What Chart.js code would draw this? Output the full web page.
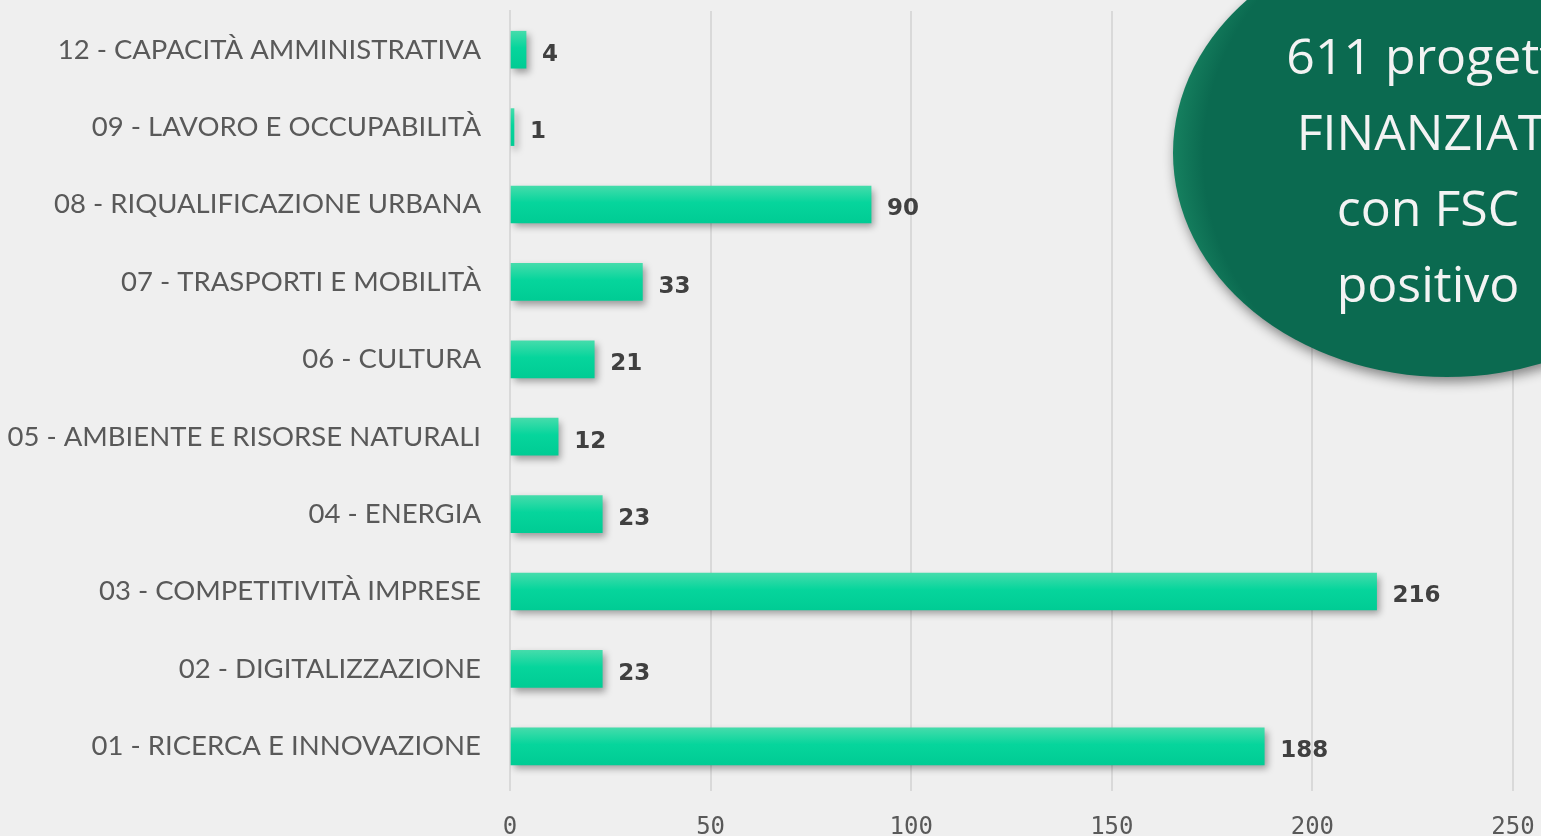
<!DOCTYPE html>
<html>
<head>
<meta charset="utf-8">
<script src="https://cdn.jsdelivr.net/npm/chart.js@4.4.1/dist/chart.umd.min.js"></script>
<style>
html,body{margin:0;padding:0;background:#efefef;}
#wrap{position:relative;width:1541px;height:836px;}
</style>
</head>
<body>
<div id="wrap"><canvas id="c" width="1541" height="836"></canvas></div>
<script>
const categories = [
  "12 - CAPACITÀ AMMINISTRATIVA",
  "09 - LAVORO E OCCUPABILITÀ",
  "08 - RIQUALIFICAZIONE URBANA",
  "07 - TRASPORTI E MOBILITÀ",
  "06 - CULTURA",
  "05 - AMBIENTE E RISORSE NATURALI",
  "04 - ENERGIA",
  "03 - COMPETITIVITÀ IMPRESE",
  "02 - DIGITALIZZAZIONE",
  "01 - RICERCA E INNOVAZIONE"
];
const projects = [4, 1, 90, 33, 21, 12, 23, 216, 23, 188];
const xTicks = [0, 50, 100, 150, 200, 250];
const calloutLines = ["611 progetti", "FINANZIATI", "con FSC", "positivo"];

const BAR_T = 37;

const barShadow = {
  id: 'barShadow',
  beforeDatasetDraw(chart) {
    const ctx = chart.ctx;
    ctx.save();
    ctx.shadowColor = 'rgba(0,0,0,0.35)';
    ctx.shadowBlur = 7;
    ctx.shadowOffsetX = 3;
    ctx.shadowOffsetY = 4;
  },
  afterDatasetDraw(chart) {
    chart.ctx.restore();
  }
};

const valueLabels = {
  id: 'valueLabels',
  afterDatasetsDraw(chart) {
    const ctx = chart.ctx;
    const meta = chart.getDatasetMeta(0);
    ctx.save();
    ctx.font = 'bold 23px "DejaVu Sans"';
    ctx.fillStyle = '#404040';
    ctx.textAlign = 'left';
    ctx.textBaseline = 'middle';
    meta.data.forEach((bar, i) => {
      ctx.fillText(String(projects[i]), bar.x + 16, bar.y + 5);
    });
    ctx.restore();
  }
};

const callout = {
  id: 'callout',
  afterDraw(chart) {
    const ctx = chart.ctx;
    const cx = 1447, cy = 153, rx = 274, ry = 224;
    ctx.save();
    ctx.shadowColor = 'rgba(0,0,0,0.45)';
    ctx.shadowBlur = 12;
    ctx.shadowOffsetX = 2;
    ctx.shadowOffsetY = 5;
    const g = ctx.createRadialGradient(cx + 30, cy + 20, 50, cx, cy, rx);
    g.addColorStop(0, '#0b6a50');
    g.addColorStop(0.88, '#0b6a50');
    g.addColorStop(1, '#16805f');
    ctx.fillStyle = g;
    ctx.beginPath();
    ctx.ellipse(cx, cy, rx, ry, 0, 0, Math.PI * 2);
    ctx.fill();
    ctx.restore();
    ctx.save();
    ctx.fillStyle = '#f3f3f3';
    ctx.font = '50px "Open Sans"';
    ctx.textAlign = 'center';
    ctx.textBaseline = 'alphabetic';
    const baselines = [74, 150, 226, 302];
    calloutLines.forEach((t, i) => ctx.fillText(t, 1428, baselines[i]));
    ctx.restore();
  }
};

new Chart(document.getElementById('c'), {
  type: 'bar',
  data: {
    labels: categories,
    datasets: [{
      data: projects,
      barThickness: BAR_T,
      backgroundColor(context) {
        const chart = context.chart;
        const y = chart.scales && chart.scales.y;
        if (!y || context.dataIndex === undefined) return '#00d49a';
        const yc = y.getPixelForValue(context.dataIndex);
        if (!isFinite(yc)) return '#00d49a';
        const g = chart.ctx.createLinearGradient(0, yc - BAR_T / 2, 0, yc + BAR_T / 2);
        g.addColorStop(0, '#44dcab');
        g.addColorStop(0.45, '#06d59c');
        g.addColorStop(1, '#00cc94');
        return g;
      },
      borderWidth: 0
    }]
  },
  options: {
    indexAxis: 'y',
    responsive: false,
    animation: false,
    devicePixelRatio: 1,
    layout: { padding: { top: 11, right: 28, left: 0, bottom: 0 } },
    plugins: { legend: { display: false }, tooltip: { enabled: false } },
    scales: {
      x: {
        min: 0, max: 250,
        afterBuildTicks(scale) { scale.ticks = xTicks.map(v => ({ value: v })); },
        grid: { color: '#d9d9d9', lineWidth: 2, drawTicks: true, tickLength: 6 },
        border: { display: false },
        ticks: { color: '#595959', font: { family: '"DejaVu Sans Mono"', size: 24 }, padding: 22 },
        afterFit(scale) { scale.height = 51; scale.paddingLeft = 0; scale.paddingRight = 0; }
      },
      y: {
        grid: { display: false },
        border: { display: true, color: '#d9d9d9', width: 2 },
        ticks: { color: '#595959', font: { family: 'Lato', size: 27.5 }, padding: 21 },
        afterFit(scale) { scale.width = 510; scale.paddingTop = 0; scale.paddingBottom = 0; }
      }
    }
  },
  plugins: [barShadow, valueLabels, callout]
});
</script>
</body>
</html>
